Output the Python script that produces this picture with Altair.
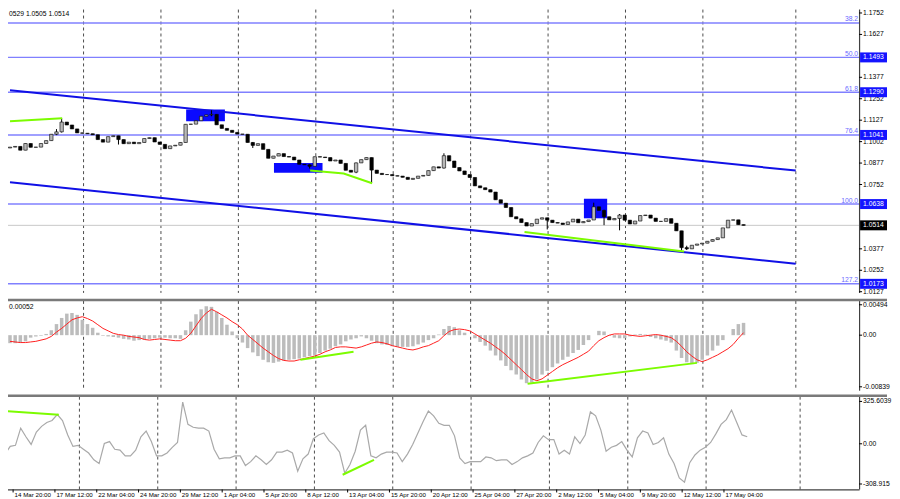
import altair as alt
import pandas as pd

FONT = "Liberation Sans"
FS = 6.8
FS_X = 6.2

# ---------------- data ----------------
first_open = 1.0965
closes = [
    1.0970, 1.0974, 1.0952, 1.0991, 1.0969, 1.0970, 1.0991, 1.1008, 1.1045, 1.1059,
    1.1116, 1.1099, 1.1076, 1.1053, 1.1051, 1.1048, 1.1042, 1.1014, 1.0999, 1.1031,
    1.1036, 1.1014, 1.0990, 1.0999, 1.0990, 1.0997, 1.1020, 1.1025, 1.1000, 1.0986,
    1.0961, 1.0977, 1.0981, 1.0997, 1.1103, 1.1104, 1.1124, 1.1150, 1.1158, 1.1161,
    1.1100, 1.1079, 1.1068, 1.1056, 1.1046, 1.1045, 1.0997, 1.0980, 1.0990, 1.0957,
    1.0905, 1.0918, 1.0932, 1.0915, 1.0912, 1.0895, 1.0870, 1.0867, 1.0858, 1.0914,
    1.0912, 1.0909, 1.0889, 1.0895, 1.0875, 1.0835, 1.0824, 1.0878, 1.0897, 1.0909,
    1.0836, 1.0817, 1.0810, 1.0810, 1.0803, 1.0801, 1.0794, 1.0782, 1.0788, 1.0801,
    1.0805, 1.0833, 1.0855, 1.0848, 1.0920, 1.0889, 1.0851, 1.0831, 1.0810, 1.0793,
    1.0744, 1.0733, 1.0722, 1.0708, 1.0663, 1.0643, 1.0618, 1.0564, 1.0552, 1.0530,
    1.0510, 1.0524, 1.0550, 1.0558, 1.0544, 1.0530, 1.0527, 1.0519, 1.0534, 1.0550,
    1.0529, 1.0536, 1.0545, 1.0622, 1.0601, 1.0564, 1.0546, 1.0554, 1.0574, 1.0544,
    1.0522, 1.0539, 1.0571, 1.0574, 1.0556, 1.0537, 1.0537, 1.0553, 1.0526, 1.0482,
    1.0384, 1.0377, 1.0398, 1.0405, 1.0410, 1.0421, 1.0431, 1.0441, 1.0499, 1.0544,
    1.0546, 1.0518, 1.0514,
]
# candles with visible wicks: index, high, low
wick_k = [9, 10, 21, 39, 47, 58, 67, 70, 84, 104, 113, 115, 118, 130, 131]
wick_high = [1.1075, 1.1140, 1.1036, 1.1185, 1.1000, 1.0870, 1.0880, 1.0909, 1.0934,
             1.0558, 1.0646, 1.0605, 1.0580, 1.0482, 1.0395]
wick_low = [1.1040, 1.1055, 1.0985, 1.1150, 1.0965, 1.0845, 1.0818, 1.0760, 1.0845,
            1.0490, 1.0545, 1.0515, 1.0485, 1.0368, 1.0370]

macd_hist = [
    -0.0013, -0.0013, -0.0012, -0.0010, -0.0004, -0.0002, -0.0001, 0.0002, 0.0008, 0.0018,
    0.0028, 0.0035, 0.0036, 0.0033, 0.0025, 0.0018, 0.0012, 0.0004, -0.0001, -0.0002,
    -0.0003, -0.0004, -0.0006, -0.0007, -0.0009, -0.0008, -0.0007, -0.0006, -0.0005, -0.0004,
    -0.0004, -0.0005, -0.0005, -0.0006, 0.0008, 0.0022, 0.0034, 0.0042, 0.0047, 0.0046,
    0.0038, 0.0028, 0.0017, 0.0006, -0.0005, -0.0012, -0.0021, -0.0028, -0.0034, -0.0040,
    -0.0044, -0.0045, -0.0043, -0.0041, -0.0040, -0.0039, -0.0038, -0.0036, -0.0034, -0.0033,
    -0.0029, -0.0025, -0.0022, -0.0018, -0.0015, -0.0010, -0.0007, -0.0005, -0.0002, -0.0005,
    -0.0009, -0.0013, -0.0015, -0.0016, -0.0018, -0.0019, -0.0019, -0.0019, -0.0018, -0.0015,
    -0.0012, -0.0008, -0.0005, 0.0001, 0.0010, 0.0015, 0.0013, 0.0008, 0.0004, 0.0000,
    -0.0005, -0.0011, -0.0017, -0.0025, -0.0033, -0.0041, -0.0050, -0.0057, -0.0064, -0.0072,
    -0.0078, -0.0077, -0.0072, -0.0064, -0.0058, -0.0052, -0.0046, -0.0040, -0.0035, -0.0029,
    -0.0024, -0.0016, -0.0008, 0.0000, 0.0007, 0.0006, -0.0001, -0.0004, -0.0005, -0.0005,
    -0.0002, 0.0001, 0.0002, 0.0001, -0.0003, -0.0005, -0.0007, -0.0009, -0.0012, -0.0025,
    -0.0037, -0.0044, -0.0047, -0.0045, -0.0040, -0.0033, -0.0025, -0.0017, -0.0008, 0.0000,
    0.0010, 0.0018, 0.0020,
]
macd_signal = [
    -0.0010, -0.0011, -0.0012, -0.0012, -0.0011, -0.0010, -0.0008, -0.0006, -0.0002, 0.0005,
    0.0011, 0.0018, 0.0025, 0.0028, 0.0030, 0.0027, 0.0023, 0.0017, 0.0011, 0.0007,
    0.0003, 0.0001, 0.0000, -0.0002, -0.0003, -0.0004, -0.0007, -0.0008, -0.0007, -0.0006,
    -0.0007, -0.0008, -0.0009, -0.0009, -0.0005, 0.0003, 0.0015, 0.0027, 0.0036, 0.0042,
    0.0038, 0.0033, 0.0028, 0.0022, 0.0017, 0.0010, 0.0000, -0.0007, -0.0014, -0.0021,
    -0.0027, -0.0033, -0.0038, -0.0041, -0.0042, -0.0042, -0.0040, -0.0038, -0.0036, -0.0034,
    -0.0031, -0.0027, -0.0024, -0.0020, -0.0019, -0.0019, -0.0020, -0.0021, -0.0019, -0.0016,
    -0.0013, -0.0011, -0.0012, -0.0014, -0.0017, -0.0019, -0.0021, -0.0023, -0.0024, -0.0022,
    -0.0019, -0.0017, -0.0013, -0.0009, -0.0001, 0.0006, 0.0009, 0.0010, 0.0009, 0.0007,
    0.0002, -0.0003, -0.0008, -0.0013, -0.0019, -0.0025, -0.0032, -0.0040, -0.0048, -0.0056,
    -0.0064, -0.0071, -0.0074, -0.0071, -0.0065, -0.0059, -0.0053, -0.0048, -0.0044, -0.0040,
    -0.0036, -0.0031, -0.0026, -0.0017, -0.0009, -0.0004, 0.0000, 0.0002, 0.0002, 0.0002,
    0.0000, -0.0001, -0.0002, -0.0001, 0.0000, 0.0001, 0.0000, -0.0002, -0.0004, -0.0010,
    -0.0018, -0.0027, -0.0034, -0.0040, -0.0043, -0.0040, -0.0036, -0.0032, -0.0027, -0.0022,
    -0.0015, -0.0005, 0.0004,
]
cci_values = [
    -79, -20, -12, 120, 54, -5, 90, 134, 164, 179,
    225, 179, 68, -20, -12, -42, -71, -123, -152, 2,
    17, -42, -49, -93, -93, -49, 54, 98, 17, -93,
    -93, -71, -27, 10, 320, 149, 127, 120, 120, 98,
    -42, -115, -108, -108, -93, -93, -167, -137, -93, -123,
    -159, -123, -64, -64, -49, -71, -211, -115, -79, 39,
    68, 83, 24, -12, -64, -226, -159, -57, 105, 142,
    -93, -108, -79, -64, -64, -71, -137, -79, -5, 83,
    171, 252, 215, 157, 142, 142, 61, -108, -152, -137,
    -137, -137, -101, -108, -130, -123, -123, -159, -137, -108,
    -93, -71, 10, 61, 32, 32, -79, -49, -79, 54,
    2, 68, 245, 215, 105, -57, -27, -12, 17, -49,
    -101, 46, 98, 83, -5, 10, 46, -79, -152, -262,
    -295, -145, -86, -49, -27, 10, 76, 149, 186, 259,
    164, 68, 54,
]

x_tick_k = [1.55, 9.55, 17.55, 25.55, 33.55, 41.55, 49.55, 57.55, 65.55, 73.55,
            81.55, 89.55, 97.55, 105.55, 113.55, 121.55, 129.55, 137.55]
x_tick_labels = ["14 Mar 20:00", "17 Mar 12:00", "22 Mar 04:00", "24 Mar 20:00",
                 "29 Mar 12:00", "1 Apr 04:00", "5 Apr 20:00", "8 Apr 12:00",
                 "13 Apr 04:00", "15 Apr 20:00", "20 Apr 12:00", "25 Apr 04:00",
                 "27 Apr 20:00", "2 May 12:00", "5 May 04:00", "9 May 20:00",
                 "12 May 12:00", "17 May 04:00"]
grid_k = [14.24, 29.22, 44.21, 59.2, 74.18, 89.17, 104.16, 119.15, 134.13, 152.12]

fib_names = ["38.2", "50.0", "61.8", "76.4", "100.0", "127.2"]
fib_levels = [1.1694, 1.1493, 1.1290, 1.1041, 1.0638, 1.0173]
fib_box_levels = [1.1493, 1.1290, 1.1041, 1.0638, 1.0173]
price_ticks = [1.1752, 1.1627, 1.1377, 1.1252, 1.1127, 1.1002, 1.0877, 1.0752,
               1.0377, 1.0252, 1.0127]
last_price = 1.0514

channel_id = ["upper", "upper", "lower", "lower"]
channel_k = [0, 152.1, 0, 152.1]
channel_p = [1.1302, 1.0833, 1.0765, 1.0290]

rect_k0 = [34.1, 51.1, 111.1]
rect_k1 = [41.6, 60.5, 115.6]
rect_top = [1.1189, 1.0878, 1.0669]
rect_bot = [1.1121, 1.0821, 1.0555]

gp_id = ["a", "a", "b", "b", "b", "c", "c"]
gp_k = [0, 10.1, 58.1, 64.6, 70.1, 99.6, 130.5]
gp_p = [1.1121, 1.1138, 1.0833, 1.0816, 1.0759, 1.0475, 1.0361]

gm_id = ["a", "a", "b", "b"]
gm_k = [56.2, 66.5, 100.2, 133.0]
gm_v = [-0.0040, -0.0027, -0.0079, -0.0045]

gc_id = ["a", "a", "b", "b"]
gc_k = [0, 10.3, 64.6, 70.6]
gc_v = [252, 223, -238, -123]

macd_ticks = [0.00494, 0.0, -0.00839]
macd_tick_labels = ["0.00494", "0.00", "-0.00839"]
cci_ticks = [325.6039, 0.0, -308.915]
cci_tick_labels = ["325.6039", "0.00", "-308.915"]

header_price = "0529 1.0505 1.0514"
header_macd = "0.00052"

# ---------------- tables ----------------
n = len(closes)
opens = [first_open] + closes[:-1]
highs = [max(o, c) for o, c in zip(opens, closes)]
lows = [min(o, c) for o, c in zip(opens, closes)]
for k, h, l in zip(wick_k, wick_high, wick_low):
    highs[k] = max(highs[k], h)
    lows[k] = min(lows[k], l)
candles = pd.DataFrame({"k": list(range(n)), "open": opens, "close": closes,
                        "high": highs, "low": lows})
candles["up"] = candles["close"] >= candles["open"]

ind = pd.DataFrame({"k": list(range(n)), "hist": macd_hist, "signal": macd_signal,
                    "cci": cci_values})

W = 856
H_PRICE, H_MACD, H_CCI = 284, 90, 93
AXIS_COLOR = "#404040"
x_scale = alt.Scale(domain=[0, 163.4], nice=False, zero=False)
ps = alt.Scale(domain=[1.0120, 1.1772], nice=False, zero=False)
ms = alt.Scale(domain=[-0.00902, 0.00557], nice=False, zero=False)
cs = alt.Scale(domain=[-351, 362], nice=False, zero=False)


def XN(f="k"):
    return alt.X(f"{f}:Q", scale=x_scale, axis=None)


def YN(f, sc):
    return alt.Y(f"{f}:Q", scale=sc, axis=None)


grid_df = pd.DataFrame({"k": grid_k})


def grid_layer():
    return alt.Chart(grid_df).mark_rule(strokeDash=[3, 3], color="#202020",
                                        strokeWidth=0.8).encode(x=XN())


def separator():
    return alt.Chart(pd.DataFrame({"a": [0]})).mark_rule(
        color="#7a7a7a", strokeWidth=2.5).encode(
        y=alt.value(-1), x=alt.value(0), x2=alt.value(W + 28))


def right_axis(vals, labs, sc, h):
    df = pd.DataFrame({"v": vals, "lab": labs})
    dom = alt.Chart(pd.DataFrame({"a": [0]})).mark_rule(color=AXIS_COLOR, strokeWidth=1.2).encode(
        x=alt.value(W + 0.5), y=alt.value(0), y2=alt.value(h))
    ticks = alt.Chart(df).mark_rule(color="#000", strokeWidth=1).encode(
        x=alt.value(W), x2=alt.value(W + 3), y=YN("v", sc))
    labels = alt.Chart(df).mark_text(align="left", baseline="middle", fontSize=FS,
                                     font=FONT, color="#000").encode(
        x=alt.value(W + 4), y=YN("v", sc), text="lab:N")
    return [dom, ticks, labels]


# ---------------- price panel ----------------
fib_df = pd.DataFrame({"level": fib_levels, "name": fib_names})
fib_lines = alt.Chart(fib_df).mark_rule(color="#8080ff", strokeWidth=1.4).encode(
    y=YN("level", ps), x=alt.value(0), x2=alt.value(W))
fib_text = alt.Chart(fib_df).mark_text(align="right", baseline="bottom", dy=-0.5,
                                       fontSize=FS, font=FONT, color="#6a6aff").encode(
    x=alt.value(W - 1), y=YN("level", ps), text="name:N")

last_df = pd.DataFrame({"level": [last_price], "label": [f"{last_price:.4f}"]})
last_line = alt.Chart(last_df).mark_rule(color="#c8c8c8", strokeWidth=1).encode(
    y=YN("level", ps), x=alt.value(0), x2=alt.value(W))

chan_df = pd.DataFrame({"id": channel_id, "k": channel_k, "p": channel_p})
chan = alt.Chart(chan_df).mark_line(color="#1010e6", strokeWidth=2).encode(
    x=XN(), y=YN("p", ps), detail="id:N")

rect_df = pd.DataFrame({"k0": rect_k0, "k1": rect_k1, "t": rect_top, "b": rect_bot})
rects = alt.Chart(rect_df).mark_rect(color="#0a0aff").encode(
    x=XN("k0"), x2="k1:Q", y=YN("t", ps), y2="b:Q")

wicks = alt.Chart(candles).mark_rule(color="#000", strokeWidth=1).encode(
    x=XN(), y=YN("low", ps), y2="high:Q")
bodies = alt.Chart(candles).mark_bar(size=3.4, stroke="#000", strokeWidth=0.6).encode(
    x=XN(), y=YN("open", ps), y2="close:Q",
    color=alt.condition("datum.up", alt.value("#b8b8b8"), alt.value("#000000")))

gp_df = pd.DataFrame({"id": gp_id, "k": gp_k, "p": gp_p})
gp = alt.Chart(gp_df).mark_line(color="#7cfc00", strokeWidth=2).encode(
    x=XN(), y=YN("p", ps), detail="id:N")

box_path = "M-1,-0.37L1,-0.37L1,0.37L-1,0.37Z"
box_df = pd.DataFrame({"level": fib_box_levels,
                       "label": [f"{v:.4f}" for v in fib_box_levels]})
boxes = alt.Chart(box_df).mark_point(shape=box_path, size=729, filled=True,
                                     opacity=1, color="#1414ff").encode(
    x=alt.value(W + 14.5), y=YN("level", ps))
box_text = alt.Chart(box_df).mark_text(align="left", baseline="middle", fontSize=FS,
                                       font=FONT, color="#ffffff").encode(
    x=alt.value(W + 4), y=YN("level", ps), text="label:N")
last_box = alt.Chart(last_df).mark_point(shape=box_path, size=729, filled=True,
                                         opacity=1, color="#000000").encode(
    x=alt.value(W + 14.5), y=YN("level", ps))
last_text = alt.Chart(last_df).mark_text(align="left", baseline="middle", fontSize=FS,
                                         font=FONT, color="#ffffff").encode(
    x=alt.value(W + 4), y=YN("level", ps), text="label:N")

hdr = alt.Chart(pd.DataFrame({"t": [header_price]})).mark_text(
    align="left", baseline="middle", fontSize=FS, font=FONT, color="#000").encode(
    x=alt.value(4), y=alt.value(4), text="t:N")

price_axis = right_axis(price_ticks, [f"{v:.4f}" for v in price_ticks], ps, H_PRICE)
price = alt.layer(grid_layer(), fib_lines, last_line, rects, chan, wicks, bodies, gp,
                  fib_text, *price_axis, boxes, box_text, last_box, last_text,
                  hdr).properties(width=W, height=H_PRICE)

# ---------------- MACD panel ----------------
hist = alt.Chart(ind).mark_bar(size=3.5, color="#bcbcbc").encode(
    x=XN(), y=YN("hist", ms), y2=alt.datum(0))
sig = alt.Chart(ind).mark_line(color="#ff2020", strokeWidth=1).encode(
    x=XN(), y=YN("signal", ms))
gm_df = pd.DataFrame({"id": gm_id, "k": gm_k, "v": gm_v})
gm = alt.Chart(gm_df).mark_line(color="#7cfc00", strokeWidth=2).encode(
    x=XN(), y=YN("v", ms), detail="id:N")
hdr_m = alt.Chart(pd.DataFrame({"t": [header_macd]})).mark_text(
    align="left", baseline="middle", fontSize=FS, font=FONT, color="#000").encode(
    x=alt.value(4), y=alt.value(6), text="t:N")
macd = alt.layer(grid_layer(), hist, sig, gm, hdr_m,
                 *right_axis(macd_ticks, macd_tick_labels, ms, H_MACD),
                 separator()).properties(width=W, height=H_MACD)

# ---------------- CCI panel ----------------
cci_line = alt.Chart(ind).mark_line(color="#a9a9a9", strokeWidth=1.2).encode(
    x=XN(), y=YN("cci", cs))
gc_df = pd.DataFrame({"id": gc_id, "k": gc_k, "v": gc_v})
gc = alt.Chart(gc_df).mark_line(color="#7cfc00", strokeWidth=2).encode(
    x=XN(), y=YN("v", cs), detail="id:N")

xt_df = pd.DataFrame({"k": x_tick_k, "lab": x_tick_labels})
x_dom = alt.Chart(pd.DataFrame({"a": [0]})).mark_rule(color=AXIS_COLOR, strokeWidth=1.2).encode(
    y=alt.value(H_CCI + 0.5), x=alt.value(0), x2=alt.value(W + 0.5))
x_ticks = alt.Chart(xt_df).mark_rule(color="#000", strokeWidth=1).encode(
    x=XN(), y=alt.value(H_CCI), y2=alt.value(H_CCI + 3))
x_labels = alt.Chart(xt_df).mark_text(align="left", baseline="top", dx=1.5,
                                      fontSize=FS_X, font=FONT, color="#000").encode(
    x=XN(), y=alt.value(H_CCI + 2.5), text="lab:N")

cci = alt.layer(grid_layer(), cci_line, gc,
                *right_axis(cci_ticks, cci_tick_labels, cs, H_CCI),
                x_dom, x_ticks, x_labels, separator()).properties(width=W, height=H_CCI)

chart = alt.vconcat(price, macd, cci, spacing=2).properties(
    padding={"left": -7, "top": 0, "right": 0, "bottom": 0}, background="white",
).configure_view(strokeWidth=0)

chart.save("out.html", embed_options={"renderer": "svg", "actions": False})
